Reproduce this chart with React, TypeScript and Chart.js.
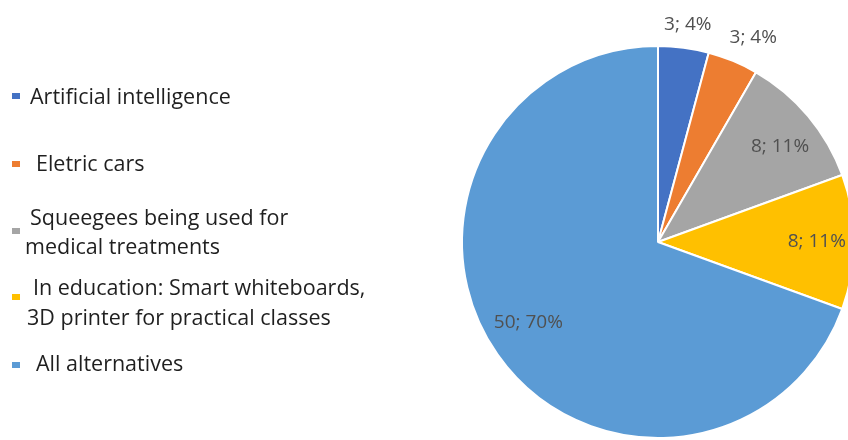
import React, { useEffect, useRef } from "react";
import { Chart, registerables } from "chart.js";

Chart.register(...registerables);

const categories = [
  "Artificial intelligence",
  "Eletric cars",
  "Squeegees being used for\nmedical treatments",
  "In education: Smart whiteboards,\n3D printer for practical classes",
  "All alternatives",
];
const values = [3, 3, 8, 8, 50];
const percents = [4, 4, 11, 11, 70];
const colors = ["#4472C4", "#ED7D31", "#A5A5A5", "#FFC000", "#5B9BD5"];

// label placement (fraction of radius, angle offset in degrees)
const labelRadius = [1.12, 1.15, 0.79, 0.81, 0.78];
const labelAngleShift = [0.3, 2.5, 2, 0, 3];

// legend layout: line centre y, first-line indent, marker centre y
const legendLineY = [[96], [163], [217, 246], [287, 317], [363]];
const legendIndent = [[5, 0], [11, 0], [5, 0], [8, 2], [11, 0]];
const legendMarkerY = [96, 164, 231, 297, 365];

const labelPlugin = {
  id: "sliceLabels",
  afterDatasetsDraw(chart: any) {
    const ctx = chart.ctx;
    const meta = chart.getDatasetMeta(0);
    ctx.save();
    ctx.font = '19px "Open Sans", sans-serif';
    ctx.fillStyle = "#505050";
    ctx.textAlign = "center";
    ctx.textBaseline = "middle";
    meta.data.forEach((arc: any, i: number) => {
      const p = arc.getProps(["x", "y", "startAngle", "endAngle", "outerRadius"], true);
      const mid = (p.startAngle + p.endAngle) / 2 + (labelAngleShift[i] * Math.PI) / 180;
      const r = p.outerRadius * labelRadius[i];
      ctx.fillText(`${values[i]}; ${percents[i]}%`, p.x + Math.cos(mid) * r, p.y + Math.sin(mid) * r);
    });
    ctx.restore();
  },
};

export default function App() {
  const ref = useRef<HTMLCanvasElement>(null);
  useEffect(() => {
    if (!ref.current) return;
    const chart = new Chart(ref.current, {
      type: "pie",
      data: {
        labels: categories,
        datasets: [
          {
            data: values,
            backgroundColor: colors,
            borderColor: "#ffffff",
            borderWidth: 2,
          },
        ],
      },
      options: {
        responsive: false,
        animation: false,
        layout: { padding: { top: 45, bottom: 1, left: 0, right: 0 } },
        plugins: { legend: { display: false }, tooltip: { enabled: false } },
      },
      plugins: [labelPlugin],
    });
    return () => chart.destroy();
  }, []);

  return (
    <div
      style={{
        position: "fixed",
        left: 0,
        top: 0,
        width: 848,
        height: 440,
        overflow: "hidden",
        background: "#fff",
      }}
    >
      <canvas
        ref={ref}
        width={1316}
        height={440}
        style={{ position: "absolute", left: 0, top: 0, width: 1316, height: 440 }}
      />
      {categories.map((c, i) => (
        <React.Fragment key={i}>
          <div
            style={{
              position: "absolute",
              left: 12,
              top: legendMarkerY[i] - 3,
              width: 8,
              height: 6,
              background: colors[i],
            }}
          />
          {c.split("\n").map((line, j) => (
            <div
              key={j}
              style={{
                position: "absolute",
                left: 25 + legendIndent[i][j],
                top: legendLineY[i][j] - 15,
                height: 30,
                lineHeight: "30px",
                fontFamily: '"Open Sans", sans-serif',
                fontSize: 21.5,
                color: "#1f1f1f",
                whiteSpace: "nowrap",
              }}
            >
              {line}
            </div>
          ))}
        </React.Fragment>
      ))}
    </div>
  );
}
